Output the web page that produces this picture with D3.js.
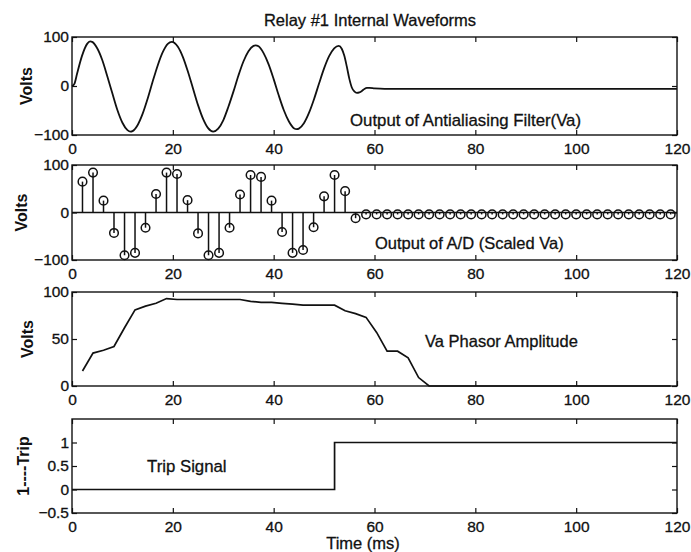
<!DOCTYPE html>
<html><head><meta charset="utf-8">
<script src="https://cdn.jsdelivr.net/npm/d3@7"></script>
<style>
body{margin:0;background:#fff}
text{font-family:"Liberation Sans",Arial,Helvetica,sans-serif;fill:#111;stroke:#111;stroke-width:0.3px}
</style>
</head><body>
<svg id="chart" width="691" height="552"></svg>
<script>
// ---------------- DATA ----------------
const titleText = "Relay #1 Internal Waveforms";
const xTickValues = [0, 20, 40, 60, 80, 100, 120];

// Panel 1: Output of antialiasing filter (Va)
const filterTime = [0, 0.5, 1, 2, 3, 3.6, 4, 5, 6, 7, 8, 9, 10, 11, 11.6, 12, 13, 14, 15, 16, 17, 18, 19, 19.8,
  21, 22, 23, 24, 25, 26, 27, 28, 29, 30, 31, 32, 33, 34, 35, 36, 36.4, 37, 38, 39, 40, 41, 42, 43, 44, 44.6,
  45, 46, 47, 48, 49, 50, 51, 52, 52.9, 53.5, 54, 54.5, 55, 55.5, 56, 56.5, 57, 57.5, 58, 58.5, 59, 60, 62, 120];
const filterVolts = [0, 5, 25, 62, 86, 91, 90, 77, 53, 20, -15, -49, -75, -90, -93, -92, -80, -57, -26, 9, 42, 69, 86, 90,
  80, 59, 29, -5, -39, -67, -86, -93, -87, -70, -43, -12, 21, 50, 71, 82, 83, 81, 67, 44, 14, -19, -49, -72, -86, -88,
  -87, -76, -55, -27, 5, 36, 61, 77, 82, 76, 62, 40, 15, -3, -11, -14, -13, -10, -6, -4, -4, -5, -6, -6];

// Sample instants (ms) used by panels 2 and 3
const sampleTime = [2.08, 4.17, 6.25, 8.33, 10.42, 12.5, 14.58, 16.67, 18.75, 20.83, 22.92, 25, 27.08, 29.17,
  31.25, 33.33, 35.42, 37.5, 39.58, 41.67, 43.75, 45.83, 47.92, 50, 52.08, 54.17, 56.25, 58.33, 60.42, 62.5,
  64.58, 66.67, 68.75, 70.83, 72.92, 75, 77.08, 79.17, 81.25, 83.33, 85.42, 87.5, 89.58, 91.67, 93.75, 95.83,
  97.92, 100, 102.08, 104.17, 106.25, 108.33, 110.42, 112.5, 114.58, 116.67, 118.75];

// Panel 2: Output of A/D (scaled Va)
const adVolts = [65, 84, 25, -43, -90, -85, -32, 39, 84, 81, 26, -44, -90, -85, -32, 38, 79, 75, 25, -41, -85, -79,
  -31, 34, 79, 45, -12, -4, -4, -4, -4, -4, -4, -4, -4, -4, -4, -4, -4, -4, -4, -4, -4, -4, -4, -4, -4, -4, -4, -4,
  -4, -4, -4, -4, -4, -4, -4];

// Panel 3: Va phasor amplitude
const phasorVolts = [16, 35, 38, 42, 62, 81, 85, 88, 93, 92, 92, 92, 92, 92, 92, 92, 90, 89, 89, 88, 87, 86, 86, 86,
  86, 80, 77, 73, 57, 37, 37, 30, 9, 0, 0, 0, 0, 0, 0, 0, 0, 0, 0, 0, 0, 0, 0, 0, 0, 0, 0, 0, 0, 0, 0, 0, 0];

// Panel 4: trip signal
const tripTime = [0, 52.08, 120];
const tripValue = [0, 1, 1];

const yTicks1 = [-100, 0, 100];
const yTicks2 = [-100, 0, 100];
const yTicks3 = [0, 50, 100];
const yTicks4 = [-0.5, 0, 0.5, 1];

// ---------------- LAYOUT ----------------
const svg = d3.select("#chart");
const L = 72, R = 677;
const x = d3.scaleLinear().domain([0, 120]).range([L, R]);

const panels = [
  {top: 37, bottom: 135, dom: [-100, 100], ticks: yTicks1, label: "Volts", lx: 32},
  {top: 165, bottom: 260, dom: [-100, 100], ticks: yTicks2, label: "Volts", lx: 27},
  {top: 292, bottom: 386, dom: [0, 100], ticks: yTicks3, label: "Volts", lx: 33},
  {top: 419, bottom: 513, dom: [-0.5, 1.5], ticks: yTicks4, label: "1----Trip", lx: 29}
];

const fmt = d => (d < 0 ? "\u2212" : "") + Math.abs(d);

panels.forEach((p, i) => {
  p.y = d3.scaleLinear().domain(p.dom).range([p.bottom, p.top]);
  const g = svg.append("g");
  g.append("rect").attr("x", L).attr("y", p.top).attr("width", R - L).attr("height", p.bottom - p.top)
    .attr("fill", "none").attr("stroke", "#111").attr("stroke-width", 1.4);
  const gb = g.append("g").attr("transform", `translate(0,${p.bottom})`)
    .call(d3.axisBottom(x).tickValues(xTickValues).tickSize(-5).tickPadding(8).tickFormat(fmt));
  const gt = g.append("g").attr("transform", `translate(0,${p.top})`)
    .call(d3.axisTop(x).tickValues(xTickValues).tickSize(-5).tickFormat(""));
  const gl = g.append("g").attr("transform", `translate(${L},0)`)
    .call(d3.axisLeft(p.y).tickValues(p.ticks).tickSize(-5).tickPadding(3).tickFormat(fmt));
  const gr = g.append("g").attr("transform", `translate(${R},0)`)
    .call(d3.axisRight(p.y).tickValues(p.ticks).tickSize(-5).tickFormat(""));
  [gb, gt, gl, gr].forEach(a => {
    a.select(".domain").remove();
    a.selectAll("line").attr("stroke", "#111").attr("stroke-width", 1.2);
    a.selectAll("text").attr("font-size", 15.5).attr("fill", "#111")
      .style("font-family", '"Liberation Sans",Arial,sans-serif');
  });
  g.append("text").attr("transform", `translate(${p.lx},${(p.top + p.bottom) / 2}) rotate(-90)`)
    .attr("text-anchor", "middle").attr("font-size", 16).attr("font-weight", "bold")
    .style("stroke-width", "0px").text(p.label);
});

// Title
svg.append("text").attr("x", 370).attr("y", 26).attr("text-anchor", "middle")
  .attr("font-size", 16.5).text(titleText);

// Panel 1 line
const p1 = panels[0];
const d1 = filterTime.map((t, i) => [t, filterVolts[i]]);
svg.append("path").datum(d1)
  .attr("d", d3.line().x(d => x(d[0])).y(d => p1.y(d[1])).curve(d3.curveMonotoneX))
  .attr("fill", "none").attr("stroke", "#111").attr("stroke-width", 1.8);
svg.append("text").attr("x", 350).attr("y", 126).attr("font-size", 16.8).text("Output of Antialiasing Filter(Va)");

// Panel 2 stems
const p2 = panels[1];
svg.append("line").attr("x1", x(0)).attr("x2", x(120)).attr("y1", p2.y(0)).attr("y2", p2.y(0))
  .attr("stroke", "#111").attr("stroke-width", 1.4);
const stems = svg.append("g");
sampleTime.forEach((t, i) => {
  stems.append("line").attr("x1", x(t)).attr("x2", x(t)).attr("y1", p2.y(0)).attr("y2", p2.y(adVolts[i]))
    .attr("stroke", "#111").attr("stroke-width", 1.5);
});
stems.selectAll("circle").data(sampleTime).join("circle")
  .attr("cx", d => x(d)).attr("cy", (d, i) => p2.y(adVolts[i])).attr("r", 4.3)
  .attr("fill", "none").attr("stroke", "#111").attr("stroke-width", 1.5);
svg.append("text").attr("x", 375).attr("y", 249).attr("font-size", 16.5).text("Output of A/D (Scaled Va)");

// Panel 3 line
const p3 = panels[2];
const d3p = sampleTime.map((t, i) => [t, phasorVolts[i]]);
svg.append("path").datum(d3p)
  .attr("d", d3.line().x(d => x(d[0])).y(d => p3.y(d[1])))
  .attr("fill", "none").attr("stroke", "#111").attr("stroke-width", 1.7);
svg.append("text").attr("x", 425).attr("y", 347).attr("font-size", 16.5).text("Va Phasor Amplitude");

// Panel 4 step
const p4 = panels[3];
const d4 = tripTime.map((t, i) => [t, tripValue[i]]);
svg.append("path").datum(d4)
  .attr("d", d3.line().x(d => x(d[0])).y(d => p4.y(d[1])).curve(d3.curveStepAfter))
  .attr("fill", "none").attr("stroke", "#111").attr("stroke-width", 1.7);
svg.append("text").attr("x", 147).attr("y", 472).attr("font-size", 16.8).text("Trip Signal");

// x label
svg.append("text").attr("x", 363).attr("y", 549).attr("text-anchor", "middle")
  .attr("font-size", 16.5).text("Time (ms)");
</script>
</body></html>
